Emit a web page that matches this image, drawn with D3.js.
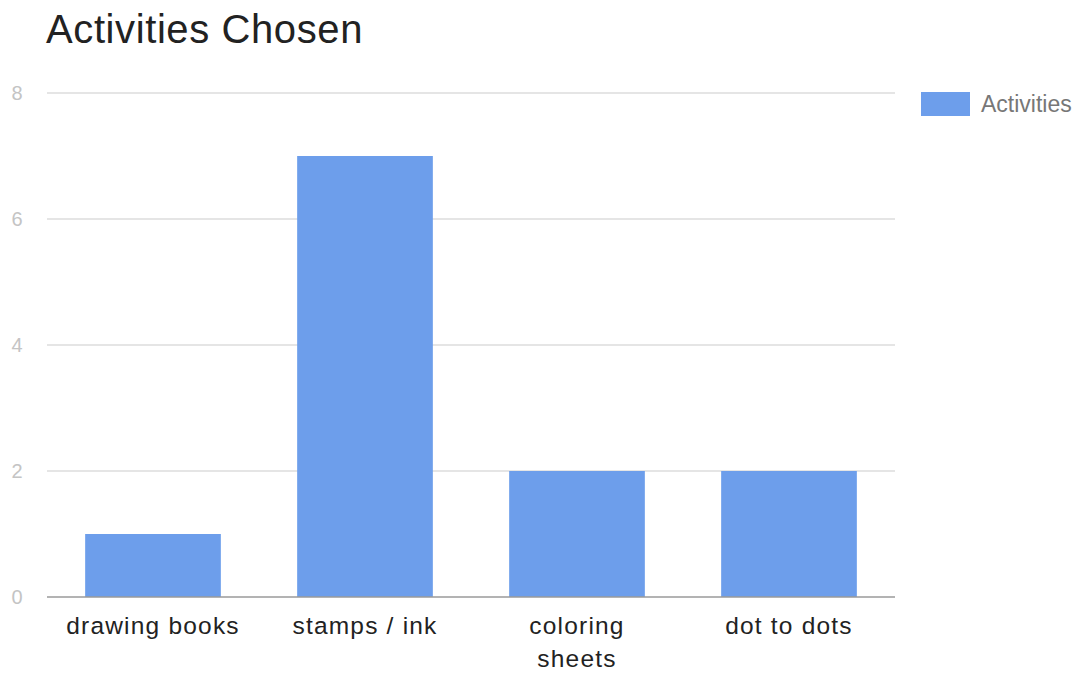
<!DOCTYPE html>
<html>
<head>
<meta charset="utf-8">
<script src="https://cdn.jsdelivr.net/npm/d3@7"></script>
<style>
  html, body { margin: 0; padding: 0; background: #fff; }
  svg { display: block; font-family: "Liberation Sans", Arial, sans-serif; }
</style>
</head>
<body>
<svg id="chart" width="1081" height="673"></svg>
<script>
const categories = ["drawing books", "stamps / ink", "coloring sheets", "dot to dots"];
const activityCounts = [1, 7, 2, 2];
const yTicks = [0, 2, 4, 6, 8];
const seriesName = "Activities";
const chartTitle = "Activities Chosen";

const svg = d3.select("#chart");
const margin = { left: 47, right: 186, top: 93, bottom: 76 };
const W = 1081, H = 673;

const x = d3.scaleBand()
  .domain(categories)
  .range([margin.left, W - margin.right])
  .paddingInner(0.36)
  .paddingOuter(0.18);

const y = d3.scaleLinear()
  .domain([0, 8])
  .range([H - margin.bottom, margin.top]);

// title
svg.append("text")
  .attr("x", 46).attr("y", 43)
  .attr("font-size", 40)
  .attr("letter-spacing", 0.6)
  .attr("fill", "#222")
  .text(chartTitle);

// gridlines
svg.append("g")
  .selectAll("line")
  .data(yTicks.filter(d => d !== 0))
  .join("line")
  .attr("x1", margin.left).attr("x2", W - margin.right)
  .attr("y1", d => y(d)).attr("y2", d => y(d))
  .attr("stroke", "#dcdcdc").attr("stroke-width", 1.5);

// y tick labels
svg.append("g")
  .selectAll("text")
  .data(yTicks)
  .join("text")
  .attr("x", 17).attr("y", d => y(d))
  .attr("dy", "0.35em")
  .attr("text-anchor", "middle")
  .attr("font-size", 20)
  .attr("fill", "#c4c4c4")
  .text(d => d);

// bars
svg.append("g")
  .selectAll("rect")
  .data(categories)
  .join("rect")
  .attr("x", d => x(d))
  .attr("width", x.bandwidth())
  .attr("y", (d, i) => y(activityCounts[i]))
  .attr("height", (d, i) => y(0) - y(activityCounts[i]))
  .attr("fill", "#6d9eeb");

// baseline
svg.append("line")
  .attr("x1", margin.left).attr("x2", W - margin.right)
  .attr("y1", y(0)).attr("y2", y(0))
  .attr("stroke", "#9a9a9a").attr("stroke-width", 1.5);

// category labels, wrapped to fit the band
const maxLabelWidth = 180;
svg.append("g")
  .selectAll("text")
  .data(categories)
  .join("text")
  .attr("text-anchor", "middle")
  .attr("font-size", 24.5)
  .attr("letter-spacing", 1.2)
  .attr("fill", "#222")
  .each(function (d) {
    const t = d3.select(this);
    const cx = x(d) + x.bandwidth() / 2;
    const words = d.split(" ");
    const lines = [];
    let line = [];
    const probe = t.append("tspan");
    words.forEach(w => {
      line.push(w);
      probe.text(line.join(" "));
      if (probe.node().getComputedTextLength() > maxLabelWidth && line.length > 1) {
        line.pop();
        lines.push(line.join(" "));
        line = [w];
      }
    });
    lines.push(line.join(" "));
    probe.remove();
    lines.forEach((l, i) => {
      t.append("tspan")
        .attr("x", cx)
        .attr("y", y(0) + 37 + i * 33)
        .text(l);
    });
  });

// legend
const lg = svg.append("g").attr("transform", "translate(921,92)");
lg.append("rect").attr("width", 49).attr("height", 24).attr("fill", "#6d9eeb");
lg.append("text")
  .attr("x", 60).attr("y", 12).attr("dy", "0.35em")
  .attr("font-size", 23).attr("fill", "#777")
  .text(seriesName);
</script>
</body>
</html>
